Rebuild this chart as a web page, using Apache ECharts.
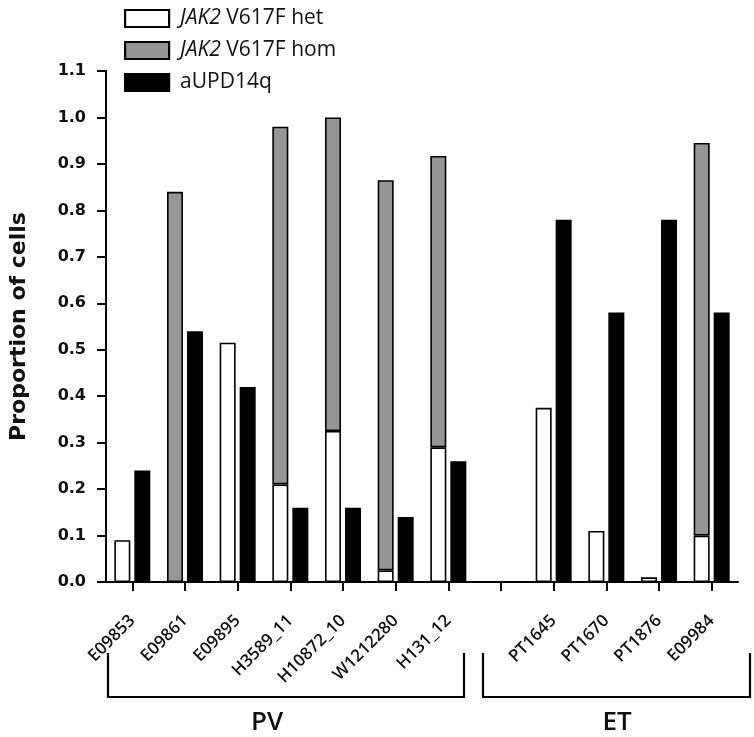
<!DOCTYPE html>
<html><head><meta charset="utf-8">
<script src="https://cdn.jsdelivr.net/npm/echarts@6/dist/echarts.min.js"></script>
<style>html,body{margin:0;padding:0;background:#fff}#c{width:754px;height:737px}</style>
</head><body><div id="c"></div>
<script>
const categories = ['E09853','E09861','E09895','H3589_11','H10872_10','W1212280','H131_12','','PT1645','PT1670','PT1876','E09984'];
const hetValues  = [0.09, null, 0.515, 0.21, 0.325, 0.025, 0.29, null, 0.375, 0.11, 0.01, 0.10];
const homValues  = [null, 0.84, null, 0.77, 0.675, 0.84, 0.627, null, null, null, null, 0.845];
const aupdValues = [0.24, 0.54, 0.42, 0.16, 0.16, 0.14, 0.26, null, 0.78, 0.58, 0.78, 0.58];
const yTicks = ['0.0','0.1','0.2','0.3','0.4','0.5','0.6','0.7','0.8','0.9','1.0','1.1'];
const groups = [{name:'PV', from:0, to:6}, {name:'ET', from:8, to:11}];

const chart = echarts.init(document.getElementById('c'));
const border = {borderColor:'#000', borderWidth:1.6};
chart.setOption({
  animation:false,
  grid:{left:101, right:16, top:71, bottom:155},
  legend:{
    orient:'vertical', left:119, top:3, itemWidth:44, itemHeight:17, itemGap:11,
    icon:'rect',
    data:['het','hom','aupd'],
    itemStyle:{borderColor:'#000', borderWidth:2.2},
    textStyle:{fontFamily:'Open Sans', fontSize:21, color:'#111', padding:[0,0,0,6],
      rich:{i:{fontFamily:'Open Sans', fontStyle:'italic', fontSize:21, color:'#111', lineHeight:20},
            n:{fontFamily:'Open Sans', fontSize:21, color:'#111', lineHeight:20}}},
    formatter:function(n){
      if(n==='het') return '{i|JAK2} {n|V617F het}';
      if(n==='hom') return '{i|JAK2} {n|V617F hom}';
      return '{n|aUPD14q}';
    }
  },
  xAxis:{
    type:'category', data:categories,
    axisLine:{lineStyle:{color:'#000', width:2}},
    axisTick:{show:true, inside:false, alignWithLabel:true, length:9, lineStyle:{color:'#000', width:2}},
    axisLabel:{rotate:45, interval:0, margin:36, fontFamily:'Open Sans', fontWeight:600, fontSize:17, color:'#111'}
  },
  yAxis:{
    type:'value', min:0, max:1.1, interval:0.1,
    axisLine:{show:true, lineStyle:{color:'#000', width:2}},
    axisTick:{show:true, inside:false, length:9, lineStyle:{color:'#000', width:2}},
    splitLine:{show:false},
    axisLabel:{fontFamily:'DejaVu Sans', fontWeight:'bold', fontSize:16, color:'#111', margin:20,
      formatter:function(v){return yTicks[Math.round(v*10)];}},
    name:'Proportion of cells', nameLocation:'middle', nameGap:76,
    nameTextStyle:{fontFamily:'DejaVu Sans', fontWeight:'bold', fontSize:22, color:'#111'}
  },
  series:[
    {name:'het', type:'bar', stack:'j', data:hetValues, barWidth:16, barGap:'25%',
      itemStyle:Object.assign({color:'#fff'}, border)},
    {name:'hom', type:'bar', stack:'j', data:homValues, barWidth:16, barGap:'25%',
      itemStyle:Object.assign({color:'#969696'}, border)},
    {name:'aupd', type:'bar', data:aupdValues, barWidth:16, barGap:'25%',
      itemStyle:Object.assign({color:'#000'}, border)}
  ]
});

function drawBrackets(){
  const els = [];
  const y0 = 653, y1 = 697;
  const bounds = [[108,464],[483,750]];
  const labelX = [267, 617];
  groups.forEach(function(g, k){
    const x0 = bounds[k][0], x1 = bounds[k][1];
    els.push({type:'polyline', shape:{points:[[x0,y0],[x0,y1],[x1,y1],[x1,y0]]},
      style:{stroke:'#000', lineWidth:2.2, fill:null}});
    els.push({type:'text', x:labelX[k], y:723, style:{text:g.name, fontFamily:'Open Sans', fontWeight:600, fontSize:26, fill:'#111', align:'center', verticalAlign:'middle'}});
  });
  chart.setOption({graphic:els});
}
drawBrackets();
</script></body></html>
